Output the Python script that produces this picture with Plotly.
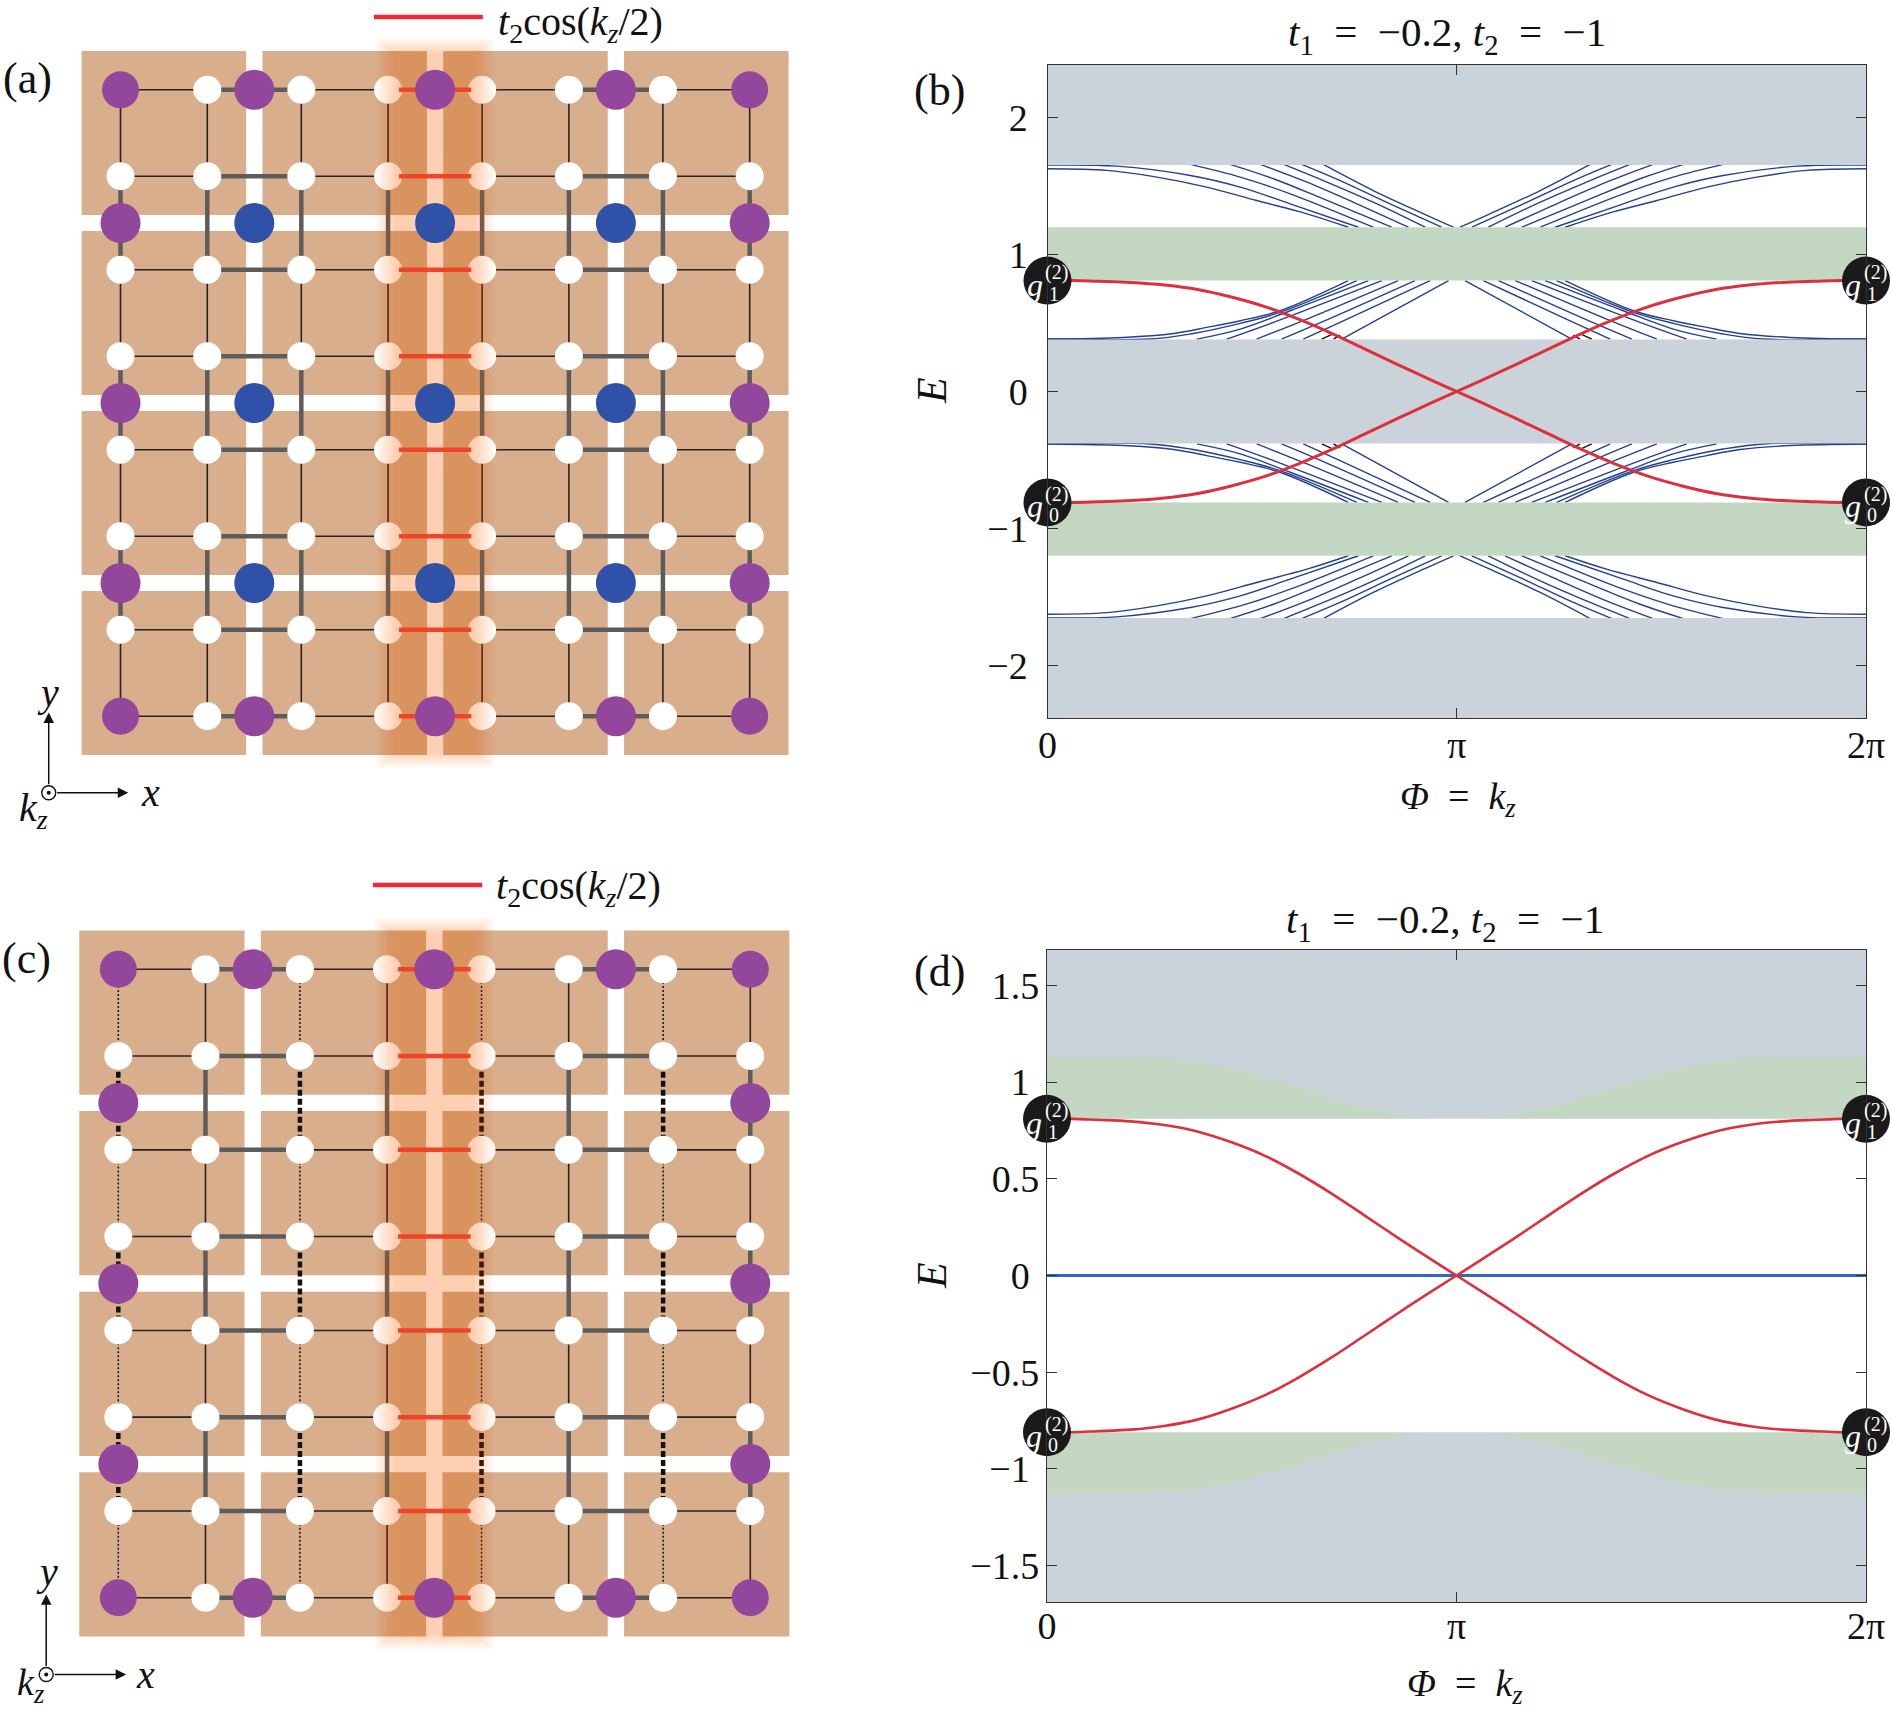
import plotly.graph_objects as go

W, H = 1892, 1713
SERIF = '"Liberation Serif", "Times New Roman", Times, serif'

# ---------- lattice data (panels a, c), in unit-cell coordinates ----------
x_nodes = [0.26, 0.74, 1.26, 1.74, 2.26, 2.74, 3.26, 3.74]
y_nodes = [0.26, 0.74, 1.26, 1.74, 2.26, 2.74, 3.26, 3.74]
cell_mid = [1, 2, 3]
edge_lo, edge_hi = 0.26, 3.74
block_lo = [0.045, 1.045, 2.045, 3.045]
block_hi = [0.955, 1.955, 2.955, 3.955]
dotted_cols_c = [0.26, 1.26, 2.26, 3.26]
solid_cols_c = [0.74, 1.74, 2.74, 3.74]
legend_x = [1.662, 2.264]
legend_y_a, legend_y_c = 4.144, 4.207
triad_x, triad_y, triad_up, triad_right = -0.137, -0.165, 0.28, 0.303

# ---------- spectrum data (panels b, d) ----------
tick_b = [2, 1, 0, -1, -2]
tick_b_text = ["2", "1", "0", "\u22121", "\u22122"]
tick_d = [1.5, 1, 0.5, 0, -0.5, -1, -1.5]
tick_d_text = ["1.5", "1\u00a0", "0.5", "0\u00a0", "\u22120.5", "\u22121\u00a0", "\u22121.5"]
phi_ticks = [0, 1, 2]          # in units of pi
phi_text = ["0", "\u03c0", "2\u03c0"]

grey_bands_b = [(1.655, 2.385), (-0.38, 0.38), (-2.385, -1.655)]
green_bands_b = [(0.81, 1.2), (-1.2, -0.81)]

upper_k = [
    [0, .145, .267, .389, .511, .634, .735],
    [0, .169, .349, .471, .593, .76],
    [.349, .471, .593, .796],
    [.446, .552, .674, .841],
    [.52, .634, .756, .882],
    [.577, .674, .796, .923],
    [.621, .715, .837, .963],
    [.674, .796, .919, .992],
]
upper_E = [
    [1.627, 1.615, 1.566, 1.493, 1.395, 1.298, 1.2],
    [1.654, 1.646, 1.578, 1.493, 1.371, 1.2],
    [1.659, 1.566, 1.444, 1.2],
    [1.659, 1.554, 1.407, 1.2],
    [1.659, 1.529, 1.371, 1.2],
    [1.659, 1.541, 1.383, 1.2],
    [1.659, 1.541, 1.371, 1.2],
    [1.659, 1.468, 1.298, 1.2],
]
lower_k = [
    [0, .186, .308, .389, .471, .568, .735],
    [0, .251, .349, .471, .568, .756],
    [.365, .471, .593, .784],
    [.438, .552, .817],
    [.511, .634, .857],
    [.572, .674, .898],
    [.625, .715, .935],
    [.719, .98],
]
lower_E = [
    [.383, .395, .424, .468, .517, .590, .81],
    [.383, .383, .420, .498, .578, .81],
    [.383, .456, .590, .81],
    [.383, .505, .81],
    [.383, .529, .81],
    [.383, .512, .81],
    [.383, .505, .81],
    [.383, .81],
]
black_k = [[.670, .699], [.699, .715]]
black_E = [[.383, .422], [.383, .412]]

red_k = [0, .061, .122, .204, .286, .367, .449, .531, .612, .694, .776, .857, .939, 1]
red_E = [.81, .81, .805, .797, .778, .745, .69, .62, .53, .425, .31, .195, .082, 0]

edge_k = [0, .226, .308, .389, .471, .552, .634, .715, .796, .878, .943, 1]
edge_E = [1.126, 1.126, 1.122, 1.098, 1.064, 1.017, .966, .906, .854, .823, .811, .811]
gap_d = 0.81

# ---------- colours ----------
BROWN = "#d9ae8c"
PURPLE = "#93479c"
BLUE = "#2f52a8"
GREY_BAND = "#cbd3da"
GREEN_BAND = "#c3d7c2"
THICK = "#5c5c5c"
THIN = "#2a2222"
RED = "#de2f3c"
BOND_RED = "#ef4428"
LINE_BLUE = "#24408f"


def dom_x(a, b):
    return [a / W, b / W]


def dom_y(a, b):
    return [1 - b / H, 1 - a / H]


def px(x, y):
    return x / W, 1 - y / H


fig = go.Figure()


def segs_h(rows, a, b):
    xs, ys = [], []
    for r in rows:
        xs += [a, b, None]
        ys += [r, r, None]
    return xs, ys


def segs_v(cols, a, b):
    xs, ys = [], []
    for c in cols:
        xs += [c, c, None]
        ys += [a, b, None]
    return xs, ys


def add_line(ax, xs, ys, color, width, dash="solid", shape="linear"):
    fig.add_trace(go.Scatter(x=xs, y=ys, xaxis="x" + ax, yaxis="y" + ax, mode="lines",
                             line=dict(color=color, width=width, dash=dash, shape=shape, smoothing=1.0),
                             hoverinfo="skip", showlegend=False, connectgaps=False))


def add_poly(ax, xs, ys, color):
    fig.add_trace(go.Scatter(x=xs, y=ys, xaxis="x" + ax, yaxis="y" + ax, mode="none",
                             fill="toself", fillcolor=color, hoverinfo="skip", showlegend=False))


def add_nodes(ax, xs, ys, color, size):
    fig.add_trace(go.Scatter(x=xs, y=ys, xaxis="x" + ax, yaxis="y" + ax, mode="markers",
                             marker=dict(color=color, size=size, line=dict(width=0)),
                             hoverinfo="skip", showlegend=False, cliponaxis=False))


def lattice(ax, panel_c, legend_y):
    # brown blocks
    bx, by = [], []
    for i in range(4):
        for j in range(4):
            bx += [block_lo[i], block_hi[i], block_hi[i], block_lo[i], block_lo[i], None]
            by += [block_lo[j], block_lo[j], block_hi[j], block_hi[j], block_lo[j], None]
    add_poly(ax, bx, by, BROWN)

    # horizontal bonds
    for i in (0, 2, 4, 6):
        xs, ys = segs_h(y_nodes, x_nodes[i], x_nodes[i + 1])
        add_line(ax, xs, ys, THIN, 1.6)
    for i in (1, 5):
        xs, ys = segs_h(y_nodes, x_nodes[i], x_nodes[i + 1])
        add_line(ax, xs, ys, THICK, 4.5)

    # vertical bonds
    for j in (0, 2, 4, 6):
        if panel_c:
            xs, ys = segs_v(solid_cols_c, y_nodes[j], y_nodes[j + 1])
            add_line(ax, xs, ys, THIN, 1.6)
            xs, ys = segs_v(dotted_cols_c, y_nodes[j], y_nodes[j + 1])
            add_line(ax, xs, ys, "#111111", 1.5, "2px,2px")
        else:
            xs, ys = segs_v(x_nodes, y_nodes[j], y_nodes[j + 1])
            add_line(ax, xs, ys, THIN, 1.6)
    for j in (1, 3, 5):
        if panel_c:
            xs, ys = segs_v(solid_cols_c, y_nodes[j], y_nodes[j + 1])
            add_line(ax, xs, ys, THICK, 4.5)
            xs, ys = segs_v(dotted_cols_c, y_nodes[j], y_nodes[j + 1])
            add_line(ax, xs, ys, "#111111", 4.5, "6px,3px")
        else:
            xs, ys = segs_v(x_nodes, y_nodes[j], y_nodes[j + 1])
            add_line(ax, xs, ys, THICK, 4.5)

    # white sites
    nx = [x for x in x_nodes for _ in y_nodes]
    ny = [y for _ in x_nodes for y in y_nodes]
    add_nodes(ax, nx, ny, "white", 28)

    # glow band around the modulated column
    layers = 16
    for i in range(layers):
        t = i / (layers - 1)
        hw = 0.33 - 0.11 * t
        lo = -0.03 + 0.09 * t
        hi = 4.03 - 0.09 * t
        add_poly(ax, [2 - hw, 2 + hw, 2 + hw, 2 - hw, 2 - hw], [lo, lo, hi, hi, lo],
                 "rgba(240,105,10,0.021)")

    # red bonds
    xs, ys = segs_h(y_nodes, x_nodes[3] + 0.06, x_nodes[4] - 0.06)
    add_line(ax, xs, ys, BOND_RED, 4.5)

    # big sites
    if not panel_c:
        add_nodes(ax, [x for x in cell_mid for _ in cell_mid],
                  [y for _ in cell_mid for y in cell_mid], BLUE, 40)
    add_nodes(ax, [edge_lo, edge_hi, edge_lo, edge_hi], [edge_lo, edge_lo, edge_hi, edge_hi], PURPLE, 37)
    add_nodes(ax, cell_mid + cell_mid + [edge_lo] * 3 + [edge_hi] * 3,
              [edge_lo] * 3 + [edge_hi] * 3 + cell_mid + cell_mid, PURPLE, 40)

    # legend line
    add_line(ax, legend_x, [legend_y, legend_y], "#ee2a35", 4.5)

    # axes triad centre
    fig.add_trace(go.Scatter(x=[triad_x], y=[triad_y], xaxis="x" + ax, yaxis="y" + ax, mode="markers",
                             marker=dict(color="white", size=14, line=dict(color="#111", width=1.4)),
                             hoverinfo="skip", showlegend=False))
    add_nodes(ax, [triad_x], [triad_y], "#111", 4)


def mirror(k, e):
    return [2 - v for v in k][::-1], e[::-1]


def add_red(ax, width):
    xr, yr = mirror(red_k, red_E)
    xdown = red_k + xr[1:]
    ydown = red_E + [-v for v in yr[1:]]
    add_line(ax, xdown, ydown, RED, width, shape="spline")
    add_line(ax, xdown, [-v for v in ydown], RED, width, shape="spline")


def add_g_markers(ax, level):
    ex = [0, 2, 0, 2]
    ey = [level, level, -level, -level]
    fig.add_trace(go.Scatter(x=ex, y=ey, xaxis="x" + ax, yaxis="y" + ax, mode="markers",
                             marker=dict(color="#1a1a1a", size=48, line=dict(width=0)),
                             hoverinfo="skip", showlegend=False, cliponaxis=False))


# ---- panel a ----
lattice("", False, legend_y_a)

# ---- panel b ----
for kk, ee in list(zip(upper_k, upper_E)) + list(zip(lower_k, lower_E)):
    xm, ym = mirror(kk, ee)
    add_line("2", kk, ee, LINE_BLUE, 1.4, shape="spline")
    add_line("2", xm, ym, LINE_BLUE, 1.4, shape="spline")
    add_line("2", kk, [-v for v in ee], LINE_BLUE, 1.4, shape="spline")
    add_line("2", xm, [-v for v in ym], LINE_BLUE, 1.4, shape="spline")
for kk, ee in zip(black_k, black_E):
    xm, ym = mirror(kk, ee)
    add_line("2", kk, ee, "#111", 1.4)
    add_line("2", xm, ym, "#111", 1.4)
    add_line("2", kk, [-v for v in ee], "#111", 1.4)
    add_line("2", xm, [-v for v in ym], "#111", 1.4)
for lo, hi in grey_bands_b:
    add_poly("2", [0, 2, 2, 0, 0], [lo, lo, hi, hi, lo], GREY_BAND)
for lo, hi in green_bands_b:
    add_poly("2", [0, 2, 2, 0, 0], [lo, lo, hi, hi, lo], GREEN_BAND)
add_red("2", 3)
add_g_markers("2", 0.81)

# ---- panel c ----
lattice("3", True, legend_y_c)

# ---- panel d ----
add_poly("4", [0, 2, 2, 0, 0], [-1.69, -1.69, 1.685, 1.685, -1.69], GREY_BAND)
xm, ym = mirror(edge_k, edge_E)
top_x = edge_k + xm
top_y = edge_E + ym
add_poly("4", top_x + [2, 0], top_y + [gap_d, gap_d], GREEN_BAND)
add_poly("4", top_x + [2, 0], [-v for v in top_y] + [-gap_d, -gap_d], GREEN_BAND)
add_poly("4", [0, 2, 2, 0, 0], [-gap_d, -gap_d, gap_d, gap_d, -gap_d], "white")
add_line("4", [0, 2], [0, 0], "#2f6cb3", 2.8)
add_red("4", 2.6)
add_g_markers("4", 0.81)

# ---------- axes ----------
hidden = dict(visible=False, showgrid=False, zeroline=False)
ax_a_px = (0, 820)
ay_a_px = (0, 840)
ax_c_px = (0, 820)
ay_c_px = (862, 1713)


def phi_axis(anchor, a, b, standoff):
    return dict(domain=dom_x(a, b), range=[0, 2], anchor=anchor, tickvals=phi_ticks, ticktext=phi_text,
                ticks="inside", ticklen=10, tickwidth=1.2, tickcolor="#333", showline=True, linecolor="#333",
                linewidth=1.3, mirror="ticks", showgrid=False, zeroline=False,
                tickfont=dict(family=SERIF, size=38, color="#111"), ticklabelstandoff=standoff, tickangle=0)


def e_axis(anchor, a, b, rng, tv, tt, standoff):
    return dict(domain=dom_y(a, b), range=rng, anchor=anchor, tickvals=tv, ticktext=tt,
                ticks="inside", ticklen=10, tickwidth=1.2, tickcolor="#333", showline=True, linecolor="#333",
                linewidth=1.3, mirror="ticks", showgrid=False, zeroline=False,
                tickfont=dict(family=SERIF, size=38, color="#111"), ticklabelstandoff=standoff)


annots = []


def txt(x, y, s, size=32, color="#111", anchor="center", angle=0, xs=0, ys=0):
    px_, py_ = px(x, y)
    annots.append(dict(x=px_, y=py_, xref="paper", yref="paper", text=s, showarrow=False,
                       xanchor=anchor, yanchor="middle", textangle=angle, xshift=xs, yshift=ys,
                       font=dict(family=SERIF, size=size, color=color)))


SP = "\u00a0\u00a0"
title = f"<i>t</i><sub>1</sub>{SP}={SP}\u22120.2, <i>t</i><sub>2</sub>{SP}={SP}\u22121"
legend = "<i>t</i><sub>2</sub>cos(<i>k<sub>z</sub></i>/2)"
philab = f"<i>\u03a6</i>{SP}={SP}<i>k<sub>z</sub></i>"

txt(27, 78, "(a)", 44)
txt(939, 90, "(b)", 44)
txt(26, 958, "(c)", 44)
txt(939, 971, "(d)", 44)
txt(1447, 35, title, 41)
txt(1445, 922, title, 41)
txt(496, 24, legend, 40, anchor="left")
txt(494, 888, legend, 40, anchor="left")
txt(1458, 799, philab, 38)
txt(1465, 1686, philab, 38)
txt(932, 391, "<i>E</i>", 42, angle=-90)
txt(932, 1276, "<i>E</i>", 42, angle=-90)
txt(48, 692, "<i>y</i>", 40)
txt(150, 792, "<i>x</i>", 40)
txt(33, 810, "<i>k<sub>z</sub></i>", 40)
txt(47, 1571, "<i>y</i>", 40)
txt(145, 1674, "<i>x</i>", 40)
txt(30, 1685, "<i>k<sub>z</sub></i>", 38)


def g_label(ax, xv, yv, sub):
    for s, size, dx, dy in (("<i>g</i>", 32, -13, -4), ("(2)", 20, 9, 8), (sub, 20, 6, -13)):
        annots.append(dict(x=xv, y=yv, xref="x" + ax, yref="y" + ax, text=s, showarrow=False,
                           xanchor="center", yanchor="middle", xshift=dx, yshift=dy,
                           font=dict(family=SERIF, size=size, color="#fdfdfd")))


for ax_name in ("2", "4"):
    for xv in (0, 2):
        g_label(ax_name, xv, 0.81, "1")
        g_label(ax_name, xv, -0.81, "0")


def arrows(ax):
    for tx, ty in ((triad_x, triad_up), (triad_right, triad_y)):
        annots.append(dict(x=tx, y=ty, ax=triad_x, ay=triad_y, xref="x" + ax, yref="y" + ax,
                           axref="x" + ax, ayref="y" + ax, text="", showarrow=True, arrowhead=2,
                           arrowsize=1.4, arrowwidth=1.5, arrowcolor="#111", standoff=0, startstandoff=7))


arrows("")
arrows("3")

fig.update_layout(
    width=W, height=H, margin=dict(l=0, r=0, t=0, b=0, pad=0, autoexpand=False), autosize=False,
    paper_bgcolor="white", plot_bgcolor="white", showlegend=False,
    xaxis=dict(domain=dom_x(*ax_a_px), anchor="y", range=[(ax_a_px[0] - 73.5) / 180.8, (ax_a_px[1] - 73.5) / 180.8], **hidden),
    yaxis=dict(domain=dom_y(*ay_a_px), anchor="x", range=[(763 - ay_a_px[1]) / 180, (763 - ay_a_px[0]) / 180], **hidden),
    xaxis2=phi_axis("y2", 1047.5, 1866, -7),
    yaxis2=e_axis("x2", 65, 718, [-2.385, 2.385], tick_b, tick_b_text, 11),
    xaxis3=dict(domain=dom_x(*ax_c_px), anchor="y3", range=[(ax_c_px[0] - 71.1) / 181.6, (ax_c_px[1] - 71.1) / 181.6], **hidden),
    yaxis3=dict(domain=dom_y(*ay_c_px), anchor="x3", range=[(1644.7 - ay_c_px[1]) / 180.6, (1644.7 - ay_c_px[0]) / 180.6], **hidden),
    xaxis4=phi_axis("y4", 1047, 1866, -10),
    yaxis4=e_axis("x4", 949.6, 1602.4, [-1.69, 1.685], tick_d, tick_d_text, -1),
    annotations=annots,
)

fig.write_html("out.html", config={"displayModeBar": False},
               post_script="document.body.style.margin='0';document.body.style.overflow='hidden';")
